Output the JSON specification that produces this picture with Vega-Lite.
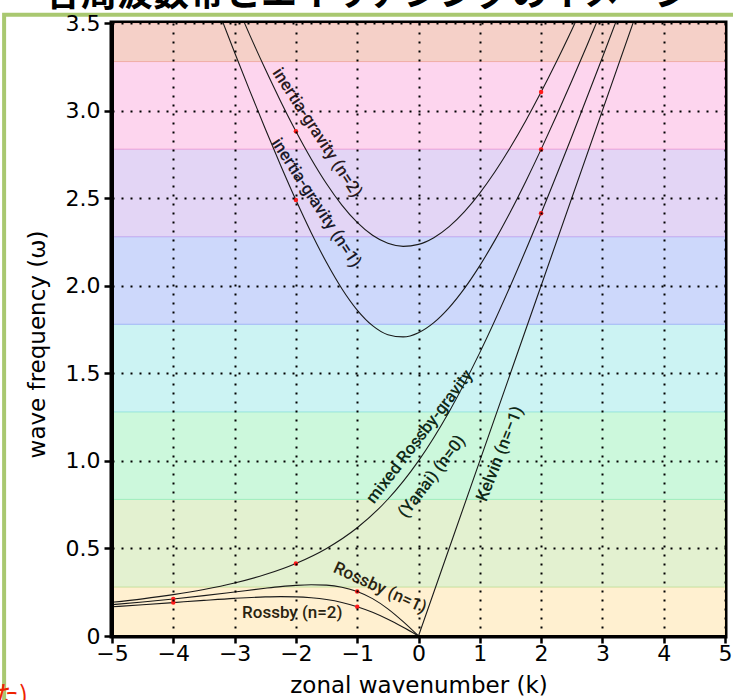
{
  "$schema": "https://vega.github.io/schema/vega-lite/v6.json",
  "width": 613,
  "height": 613,
  "autosize": "none",
  "padding": {"left": 112, "top": 23, "right": 8, "bottom": 64},
  "background": "white",
  "data": {"values": [{"note": 1}]},
  "config": {
    "view": {"stroke": "black", "strokeWidth": 5},
    "axis": {
      "domainColor": "black",
      "domainWidth": 3,
      "tickColor": "black",
      "tickWidth": 2.5,
      "tickSize": 8,
      "labelFont": "DejaVu Sans",
      "labelFontSize": 22,
      "labelColor": "black",
      "labelFlush": false,
      "titleFont": "DejaVu Sans",
      "titleFontSize": 23,
      "titleFontWeight": "normal",
      "titleColor": "black",
      "grid": true,
      "gridColor": "black",
      "gridDash": [2, 7],
      "gridWidth": 2,
      "gridOpacity": 1
    },
    "text": {"font": "Roboto", "fontWeight": 500, "fontSize": 17}
  },
  "datasets": {
    "bands": [
      {"band": "b0", "lo": 0, "hi": 0.28},
      {"band": "b1", "lo": 0.28, "hi": 0.78},
      {"band": "b2", "lo": 0.78, "hi": 1.28},
      {"band": "b3", "lo": 1.28, "hi": 1.78},
      {"band": "b4", "lo": 1.78, "hi": 2.28},
      {"band": "b5", "lo": 2.28, "hi": 2.78},
      {"band": "b6", "lo": 2.78, "hi": 3.28},
      {"band": "b7", "lo": 3.28, "hi": 3.5}
    ],
    "curves": [
      {"wave": "IG2", "k": -3, "w": 3.6295},
      {"wave": "IG2", "k": -2.75, "w": 3.4294},
      {"wave": "IG2", "k": -2.5, "w": 3.2369},
      {"wave": "IG2", "k": -2.25, "w": 3.0538},
      {"wave": "IG2", "k": -2, "w": 2.882},
      {"wave": "IG2", "k": -1.75, "w": 2.724},
      {"wave": "IG2", "k": -1.5, "w": 2.5824},
      {"wave": "IG2", "k": -1.25, "w": 2.4606},
      {"wave": "IG2", "k": -1, "w": 2.3614},
      {"wave": "IG2", "k": -0.75, "w": 2.2879},
      {"wave": "IG2", "k": -0.5, "w": 2.2421},
      {"wave": "IG2", "k": -0.25, "w": 2.2249},
      {"wave": "IG2", "k": 0, "w": 2.2361},
      {"wave": "IG2", "k": 0.25, "w": 2.2743},
      {"wave": "IG2", "k": 0.5, "w": 2.3375},
      {"wave": "IG2", "k": 0.75, "w": 2.4232},
      {"wave": "IG2", "k": 1, "w": 2.5289},
      {"wave": "IG2", "k": 1.25, "w": 2.6521},
      {"wave": "IG2", "k": 1.5, "w": 2.7906},
      {"wave": "IG2", "k": 1.75, "w": 2.9423},
      {"wave": "IG2", "k": 2, "w": 3.1055},
      {"wave": "IG2", "k": 2.25, "w": 3.2785},
      {"wave": "IG2", "k": 2.5, "w": 3.4601},
      {"wave": "IG2", "k": 2.75, "w": 3.649},
      {"wave": "IG1", "k": -3.25, "w": 3.557},
      {"wave": "IG1", "k": -3, "w": 3.3315},
      {"wave": "IG1", "k": -2.75, "w": 3.111},
      {"wave": "IG1", "k": -2.5, "w": 2.896},
      {"wave": "IG1", "k": -2.25, "w": 2.688},
      {"wave": "IG1", "k": -2, "w": 2.4892},
      {"wave": "IG1", "k": -1.75, "w": 2.3027},
      {"wave": "IG1", "k": -1.5, "w": 2.1322},
      {"wave": "IG1", "k": -1.25, "w": 1.983},
      {"wave": "IG1", "k": -1, "w": 1.8608},
      {"wave": "IG1", "k": -0.75, "w": 1.7718},
      {"wave": "IG1", "k": -0.5, "w": 1.7203},
      {"wave": "IG1", "k": -0.25, "w": 1.7077},
      {"wave": "IG1", "k": 0, "w": 1.7321},
      {"wave": "IG1", "k": 0.25, "w": 1.7895},
      {"wave": "IG1", "k": 0.5, "w": 1.8753},
      {"wave": "IG1", "k": 0.75, "w": 1.985},
      {"wave": "IG1", "k": 1, "w": 2.1149},
      {"wave": "IG1", "k": 1.25, "w": 2.2617},
      {"wave": "IG1", "k": 1.5, "w": 2.4226},
      {"wave": "IG1", "k": 1.75, "w": 2.5955},
      {"wave": "IG1", "k": 2, "w": 2.7784},
      {"wave": "IG1", "k": 2.25, "w": 2.9699},
      {"wave": "IG1", "k": 2.5, "w": 3.1684},
      {"wave": "IG1", "k": 2.75, "w": 3.3731},
      {"wave": "IG1", "k": 3, "w": 3.583},
      {"wave": "MRG", "k": -5, "w": 0.1926},
      {"wave": "MRG", "k": -4.5, "w": 0.2122},
      {"wave": "MRG", "k": -4, "w": 0.2361},
      {"wave": "MRG", "k": -3.5, "w": 0.2656},
      {"wave": "MRG", "k": -3, "w": 0.3028},
      {"wave": "MRG", "k": -2.5, "w": 0.3508},
      {"wave": "MRG", "k": -2, "w": 0.4142},
      {"wave": "MRG", "k": -1.5, "w": 0.5},
      {"wave": "MRG", "k": -1, "w": 0.618},
      {"wave": "MRG", "k": -0.5, "w": 0.7808},
      {"wave": "MRG", "k": 0, "w": 1},
      {"wave": "MRG", "k": 0.5, "w": 1.2808},
      {"wave": "MRG", "k": 1, "w": 1.618},
      {"wave": "MRG", "k": 1.5, "w": 2.0},
      {"wave": "MRG", "k": 2, "w": 2.4142},
      {"wave": "MRG", "k": 2.5, "w": 2.8508},
      {"wave": "MRG", "k": 3, "w": 3.3028},
      {"wave": "MRG", "k": 3.5, "w": 3.7656},
      {"wave": "Kelvin", "k": 0, "w": 0},
      {"wave": "Kelvin", "k": 1, "w": 1},
      {"wave": "Kelvin", "k": 2, "w": 2},
      {"wave": "Kelvin", "k": 3.7, "w": 3.7},
      {"wave": "R1", "k": -5, "w": 0.1788},
      {"wave": "R1", "k": -4.5, "w": 0.1939},
      {"wave": "R1", "k": -4, "w": 0.211},
      {"wave": "R1", "k": -3.5, "w": 0.2303},
      {"wave": "R1", "k": -3, "w": 0.2513},
      {"wave": "R1", "k": -2.5, "w": 0.2725},
      {"wave": "R1", "k": -2.25, "w": 0.2819},
      {"wave": "R1", "k": -2, "w": 0.2892},
      {"wave": "R1", "k": -1.75, "w": 0.2928},
      {"wave": "R1", "k": -1.5, "w": 0.2904},
      {"wave": "R1", "k": -1.25, "w": 0.2787},
      {"wave": "R1", "k": -1, "w": 0.2541},
      {"wave": "R1", "k": -0.75, "w": 0.2133},
      {"wave": "R1", "k": -0.5, "w": 0.155},
      {"wave": "R1", "k": -0.25, "w": 0.0818},
      {"wave": "R1", "k": 0, "w": 0},
      {"wave": "R2", "k": -5, "w": 0.1668},
      {"wave": "R2", "k": -4.5, "w": 0.1784},
      {"wave": "R2", "k": -4, "w": 0.1908},
      {"wave": "R2", "k": -3.5, "w": 0.2034},
      {"wave": "R2", "k": -3, "w": 0.215},
      {"wave": "R2", "k": -2.5, "w": 0.2232},
      {"wave": "R2", "k": -2.25, "w": 0.2247},
      {"wave": "R2", "k": -2, "w": 0.2235},
      {"wave": "R2", "k": -1.75, "w": 0.2183},
      {"wave": "R2", "k": -1.5, "w": 0.2081},
      {"wave": "R2", "k": -1.25, "w": 0.1915},
      {"wave": "R2", "k": -1, "w": 0.1674},
      {"wave": "R2", "k": -0.75, "w": 0.1353},
      {"wave": "R2", "k": -0.5, "w": 0.0954},
      {"wave": "R2", "k": -0.25, "w": 0.0494},
      {"wave": "R2", "k": 0, "w": 0}
    ],
    "dots": [
      {"k": -4, "w": 0.211},
      {"k": -4, "w": 0.1908},
      {"k": -2, "w": 0.4142},
      {"k": -2, "w": 2.4892},
      {"k": -2, "w": 2.882},
      {"k": -1, "w": 0.2541},
      {"k": -1, "w": 0.1674},
      {"k": 2, "w": 2.4142},
      {"k": 2, "w": 2.7784},
      {"k": 2, "w": 3.1055}
    ]
  },
  "layer": [
    {
      "data": {"name": "bands"},
      "mark": {"type": "rect", "strokeWidth": 1, "clip": true},
      "encoding": {
        "y": {"field": "lo", "type": "quantitative", "title": "wave frequency (ω)",
          "scale": {"domain": [0, 3.5], "nice": false, "zero": false},
          "axis": {"values": [0, 0.5, 1, 1.5, 2, 2.5, 3, 3.5], "labelPadding": 4, "zindex": 1,
            "labelExpr": "datum.value === 0 ? '0' : format(datum.value, '.1f')",
            "titleX": -75, "titleY": 321, "titleBaseline": "middle", "titleAlign": "center"}},
        "y2": {"field": "hi"},
        "fill": {"field": "band", "type": "nominal", "legend": null,
          "scale": {"domain": ["b0", "b1", "b2", "b3", "b4", "b5", "b6", "b7"],
                    "range": ["#fff0d0", "#e3f1d0", "#ccf8dc", "#ccf3f3", "#cdd8fb", "#e3d5f5", "#fdd5ee", "#f5d0c8"]}},
        "stroke": {"field": "band", "type": "nominal", "legend": null,
          "scale": {"domain": ["b0", "b1", "b2", "b3", "b4", "b5", "b6", "b7"],
                    "range": ["#f5dca8", "#c8e4a8", "#a0eec0", "#a0e6e6", "#a8b8f8", "#c8b0f0", "#f4a8d8", "#f0b0a8"]}}
      }
    },
    {
      "data": {"name": "curves"},
      "mark": {"type": "line", "color": "#1a1a1a", "strokeWidth": 1.1, "interpolate": "monotone", "clip": true},
      "encoding": {
        "x": {"field": "k", "type": "quantitative", "title": "zonal wavenumber (k)",
          "scale": {"domain": [-5, 5], "nice": false, "zero": false},
          "axis": {"values": [-5, -4, -3, -2, -1, 0, 1, 2, 3, 4, 5], "tickSize": 7, "labelPadding": 0, "zindex": 1,
            "labelOverlap": false, "labelExpr": "format(datum.value, 'd')",
            "titleY": 49, "titleBaseline": "middle"}},
        "y": {"field": "w", "type": "quantitative", "title": "wave frequency (ω)",
          "scale": {"domain": [0, 3.5], "nice": false, "zero": false},
          "axis": {"values": [0, 0.5, 1, 1.5, 2, 2.5, 3, 3.5], "labelPadding": 4, "zindex": 1,
            "labelExpr": "datum.value === 0 ? '0' : format(datum.value, '.1f')",
            "titleX": -75, "titleY": 321, "titleBaseline": "middle", "titleAlign": "center"}},
        "detail": {"field": "wave", "type": "nominal"}
      }
    },
    {
      "data": {"name": "dots"},
      "mark": {"type": "circle", "color": "#ff1a1a", "size": 20, "opacity": 1},
      "encoding": {
        "x": {"field": "k", "type": "quantitative", "title": "zonal wavenumber (k)"},
        "y": {"field": "w", "type": "quantitative", "title": "wave frequency (ω)"}
      }
    },
    {
      "mark": {"type": "rect", "filled": false, "stroke": "#a9c870", "strokeWidth": 4, "clip": false},
      "encoding": {
        "x": {"datum": -6.76, "type": "quantitative"},
        "x2": {"datum": 5.3},
        "y": {"datum": 3.547, "type": "quantitative"},
        "y2": {"datum": -0.45}
      }
    },
    {
      "mark": {"type": "text", "text": "各周波数帯とエイリアシングのイメージ", "font": "Noto Sans CJK JP", "fontSize": 36, "fontWeight": "bold", "color": "black", "align": "left", "baseline": "alphabetic", "clip": false},
      "encoding": {"x": {"datum": -6.093, "type": "quantitative"}, "y": {"datum": 3.595, "type": "quantitative"}}
    },
    {
      "mark": {"type": "text", "text": "inertia-gravity (n=2)", "angle": 57, "color": "#2a1a22", "align": "center", "baseline": "middle"},
      "encoding": {"x": {"datum": -1.656, "type": "quantitative"}, "y": {"datum": 2.873, "type": "quantitative"}}
    },
    {
      "mark": {"type": "text", "text": "inertia-gravity (n=1)", "angle": 57, "color": "#1a1a2a", "align": "center", "baseline": "middle"},
      "encoding": {"x": {"datum": -1.672, "type": "quantitative"}, "y": {"datum": 2.473, "type": "quantitative"}}
    },
    {
      "mark": {"type": "text", "text": "mixed Rossby-gravity", "angle": -52.5, "color": "#102a18", "align": "center", "baseline": "middle"},
      "encoding": {"x": {"datum": 0.02, "type": "quantitative"}, "y": {"datum": 1.137, "type": "quantitative"}}
    },
    {
      "mark": {"type": "text", "text": "(Yanai) (n=0)", "angle": -52.5, "color": "#102a18", "align": "center", "baseline": "middle"},
      "encoding": {"x": {"datum": 0.22, "type": "quantitative"}, "y": {"datum": 0.91, "type": "quantitative"}}
    },
    {
      "mark": {"type": "text", "text": "Kelvin (n=−1)", "angle": -68.5, "color": "#102a18", "align": "center", "baseline": "middle"},
      "encoding": {"x": {"datum": 1.33, "type": "quantitative"}, "y": {"datum": 1.04, "type": "quantitative"}}
    },
    {
      "mark": {"type": "text", "text": "Rossby (n=1)", "angle": 24.5, "color": "#2a2410", "align": "center", "baseline": "middle"},
      "encoding": {"x": {"datum": -0.63, "type": "quantitative"}, "y": {"datum": 0.274, "type": "quantitative"}}
    },
    {
      "mark": {"type": "text", "text": "Rossby (n=2)", "angle": 0, "color": "#2a2410", "align": "center", "baseline": "middle"},
      "encoding": {"x": {"datum": -2.06, "type": "quantitative"}, "y": {"datum": 0.13, "type": "quantitative"}}
    },
    {
      "mark": {"type": "text", "text": "た)", "font": "Noto Sans CJK JP", "fontSize": 26, "fontWeight": "normal", "color": "#ee2200", "align": "right", "baseline": "alphabetic", "clip": false},
      "encoding": {"x": {"datum": -6.37, "type": "quantitative"}, "y": {"datum": -0.394, "type": "quantitative"}}
    }
  ]
}
